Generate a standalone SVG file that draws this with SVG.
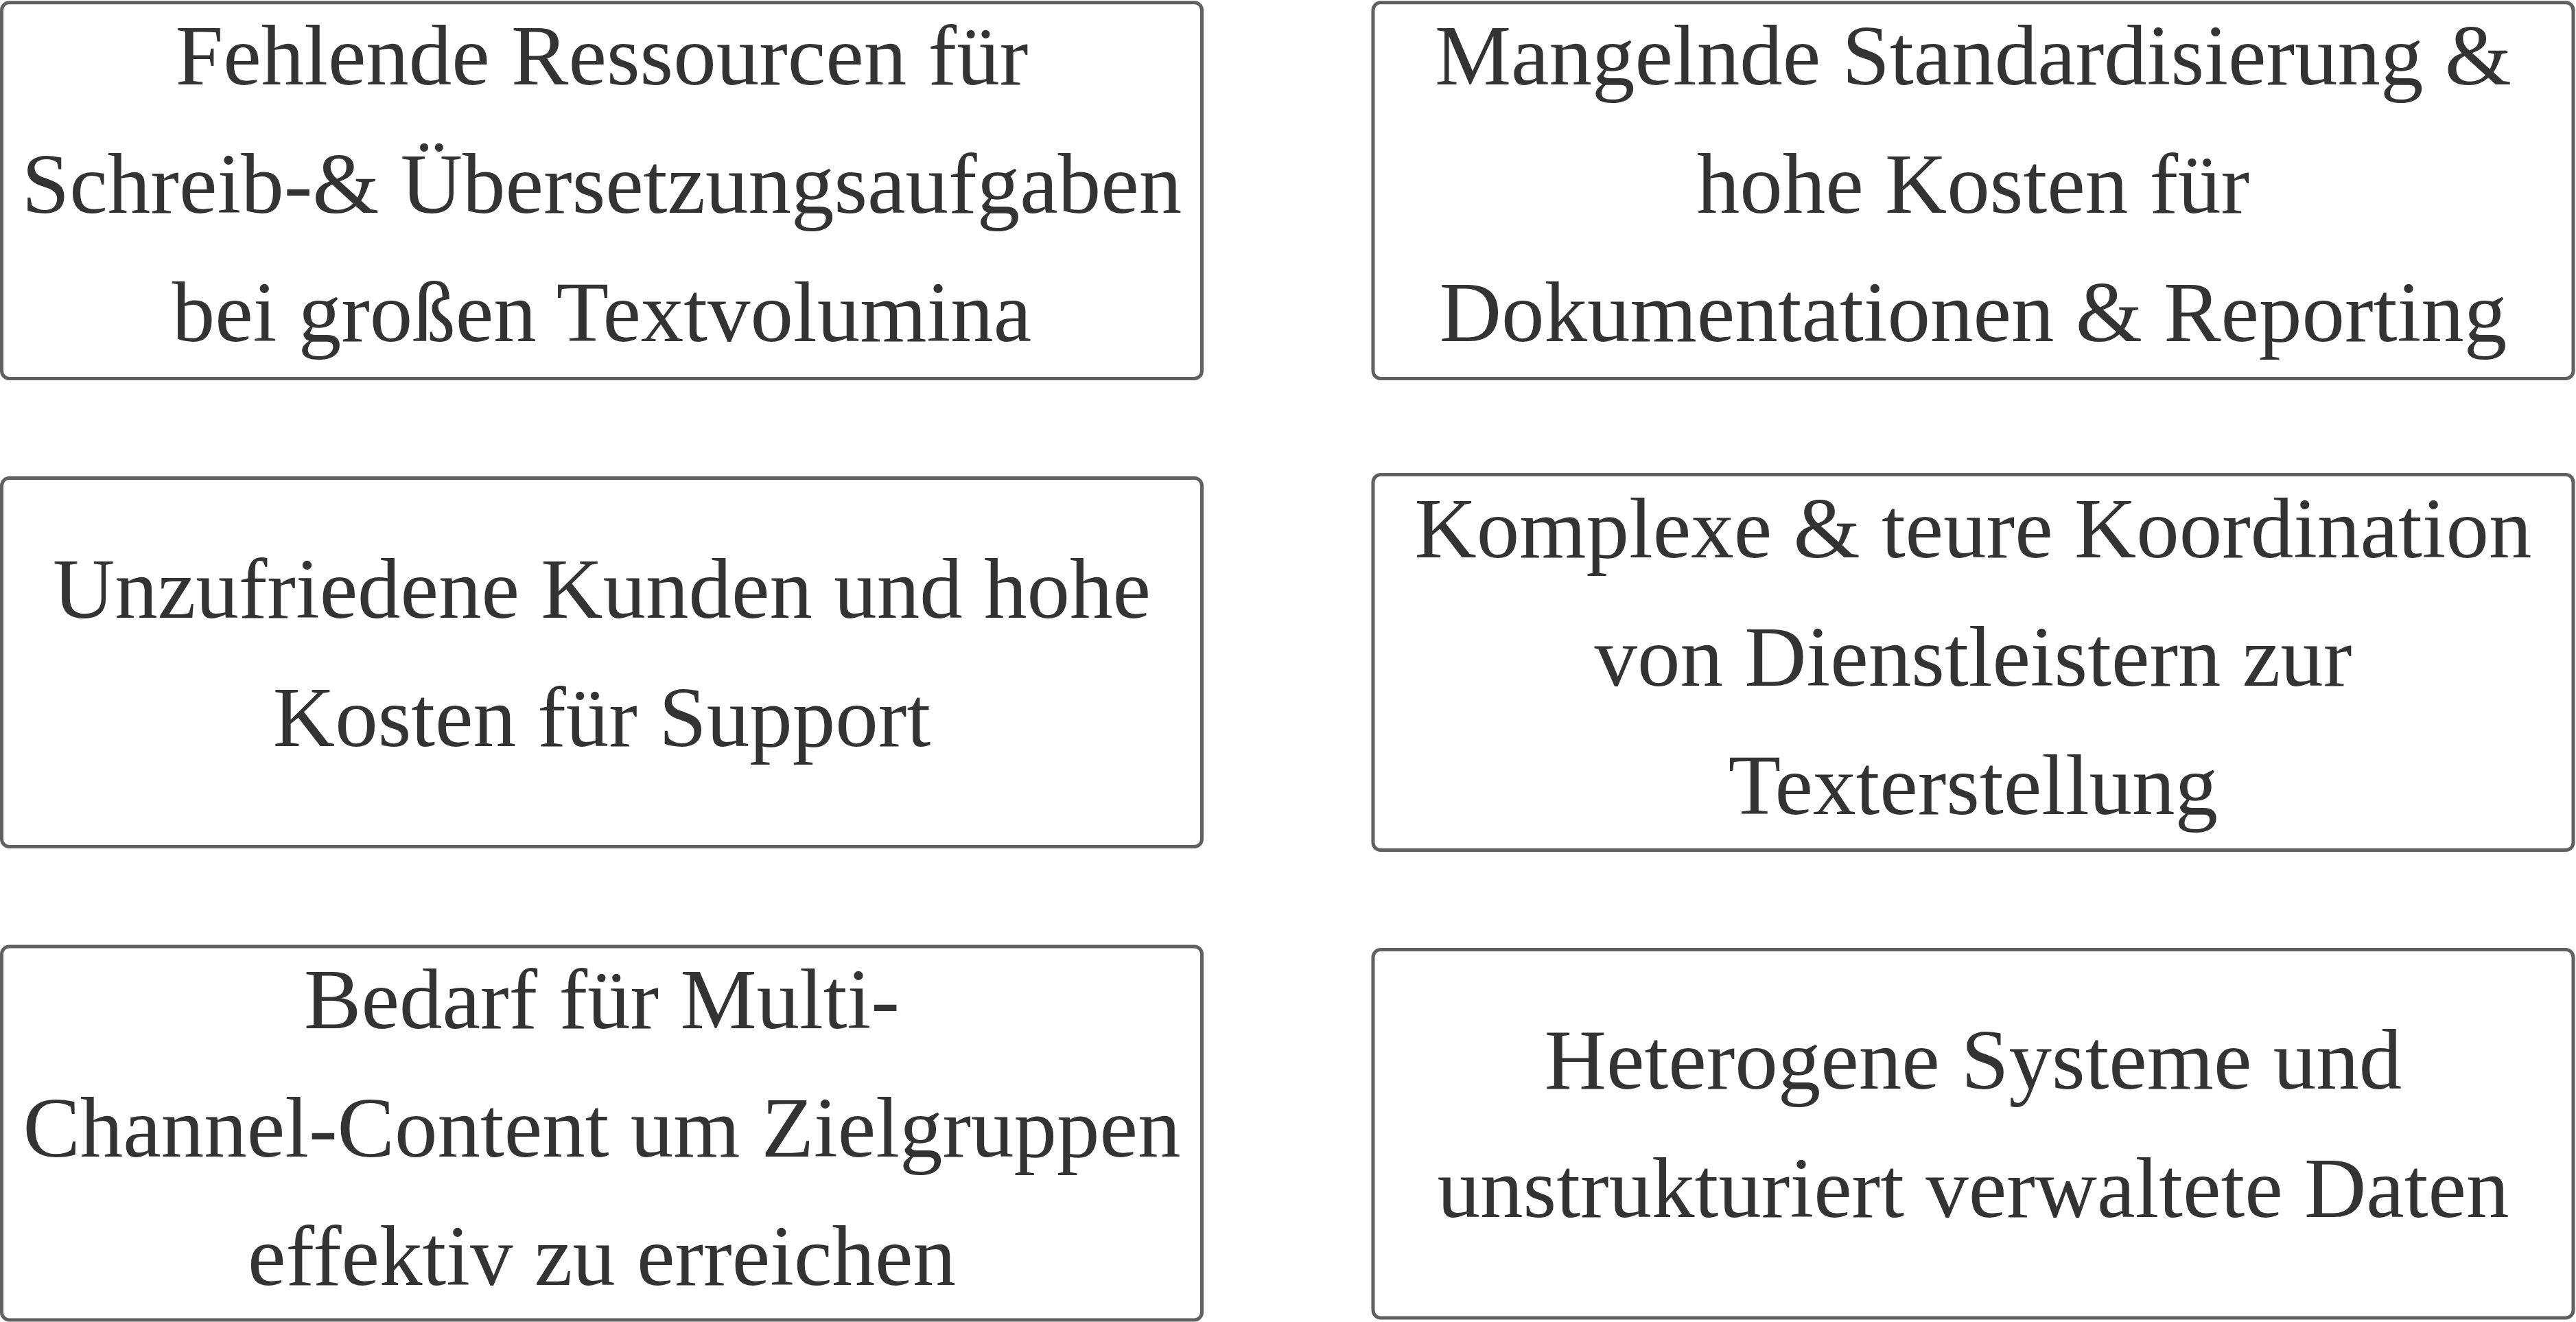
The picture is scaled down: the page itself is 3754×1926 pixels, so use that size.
<svg xmlns="http://www.w3.org/2000/svg" width="3754" height="1926" viewBox="0 0 3754 1926">
  <style>
    .box { fill: #ffffff; stroke: #606060; stroke-width: 5; }
    .label { font-family: "Liberation Serif", "Times New Roman", serif; font-size: 125px; fill: #333333; text-anchor: middle; }
  </style>
  <rect x="0" y="0" width="3754" height="1926" fill="#ffffff"/>
  <g id="connectors"></g>
  <g id="node-ressourcen">
    <rect class="box" x="2.5" y="3.8" width="1749" height="547.7" rx="11"/>
    <text class="label" x="877" y="123">Fehlende Ressourcen für</text>
    <text class="label" x="877" y="310">Schreib-&amp; Übersetzungsaufgaben</text>
    <text class="label" x="877" y="497">bei großen Textvolumina</text>
  </g>
  <g id="node-standardisierung">
    <rect class="box" x="2001" y="3.8" width="1749" height="547.7" rx="11"/>
    <text class="label" x="2875.5" y="123">Mangelnde Standardisierung &amp;</text>
    <text class="label" x="2875.5" y="310">hohe Kosten für</text>
    <text class="label" x="2875.5" y="497">Dokumentationen &amp; Reporting</text>
  </g>
  <g id="node-kunden">
    <rect class="box" x="2.5" y="696.5" width="1749" height="537" rx="11"/>
    <text class="label" x="877" y="900">Unzufriedene Kunden und hohe</text>
    <text class="label" x="877" y="1087">Kosten für Support</text>
  </g>
  <g id="node-koordination">
    <rect class="box" x="2001" y="691.5" width="1749" height="547" rx="11"/>
    <text class="label" x="2875.5" y="812">Komplexe &amp; teure Koordination</text>
    <text class="label" x="2875.5" y="999">von Dienstleistern zur</text>
    <text class="label" x="2875.5" y="1186">Texterstellung</text>
  </g>
  <g id="node-multichannel">
    <rect class="box" x="2.5" y="1379" width="1749" height="544" rx="11"/>
    <text class="label" x="877" y="1498">Bedarf für Multi-</text>
    <text class="label" x="877" y="1685">Channel-Content um Zielgruppen</text>
    <text class="label" x="877" y="1872">effektiv zu erreichen</text>
  </g>
  <g id="node-systeme">
    <rect class="box" x="2001" y="1383.5" width="1749" height="536.5" rx="11"/>
    <text class="label" x="2875.5" y="1586">Heterogene Systeme und</text>
    <text class="label" x="2875.5" y="1773">unstrukturiert verwaltete Daten</text>
  </g>
</svg>
